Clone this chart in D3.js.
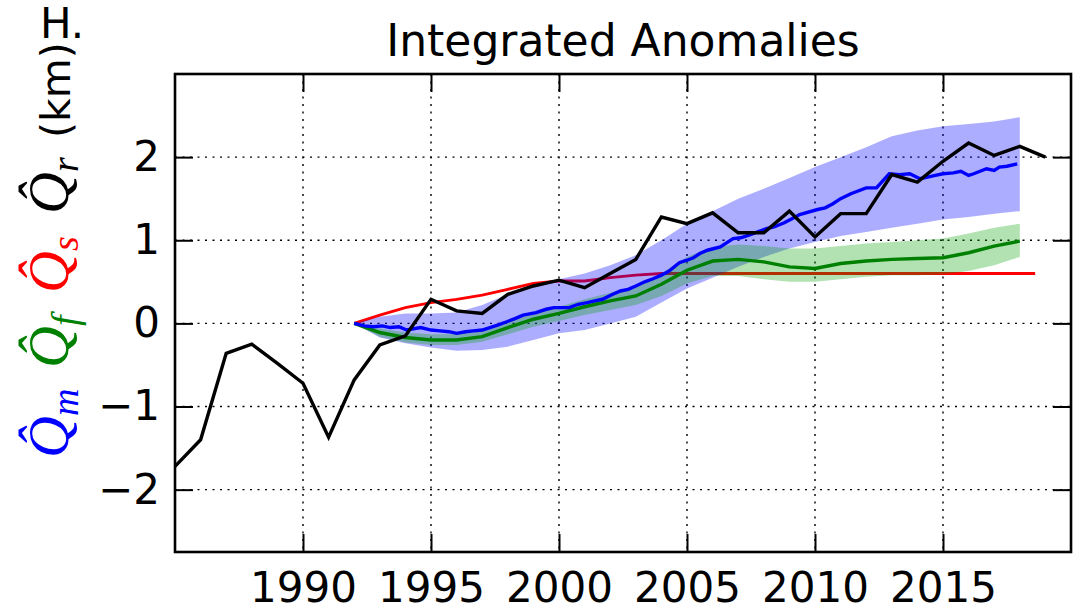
<!DOCTYPE html>
<html>
<head>
<meta charset="utf-8">
<script src="https://cdn.jsdelivr.net/npm/d3@7"></script>
<style>
  html, body { margin: 0; padding: 0; background: #fff; }
  svg { display: block; }
</style>
</head>
<body>
<svg id="chart" width="1074" height="612"></svg>
<script>
// ---------- data ----------
const xTicks = [1990, 1995, 2000, 2005, 2010, 2015];
const yTicks = [-2, -1, 0, 1, 2];

// Q_r (black), annual
const qrYears = [1985,1986,1987,1988,1989,1990,1991,1992,1993,1994,1995,1996,1997,1998,1999,2000,2001,2002,2003,2004,2005,2006,2007,2008,2009,2010,2011,2012,2013,2014,2015,2016,2017,2018,2019];
const qrValues = [-1.72,-1.40,-0.36,-0.25,-0.48,-0.72,-1.37,-0.68,-0.26,-0.15,0.29,0.15,0.12,0.35,0.45,0.52,0.43,0.60,0.77,1.28,1.20,1.33,1.09,1.09,1.35,1.04,1.32,1.32,1.79,1.70,1.95,2.17,2.02,2.13,2.00];

// Q_s (red)
const qsYears = [1992,1993,1994,1995,1996,1997,1998,1999,2000,2001,2002,2003,2004,2005,2006,2008,2010,2012,2014,2016,2018,2018.6];
const qsValues = [0.0,0.10,0.19,0.25,0.29,0.34,0.41,0.48,0.51,0.51,0.55,0.58,0.60,0.60,0.60,0.60,0.60,0.60,0.60,0.60,0.60,0.60];

// Q_m (blue), sub-annual
const qmYears = [1992.0,1992.4,1992.75,1993.1,1993.4,1993.75,1994.05,1994.6,1995.0,1995.35,1995.7,1996.0,1996.35,1996.65,1997.0,1997.3,1997.6,1997.96,1998.3,1998.6,1999.1,1999.5,1999.8,2000.4,2000.75,2001.1,2001.4,2001.7,2002.1,2002.4,2002.7,2003.0,2003.35,2003.7,2004.0,2004.3,2004.7,2005.0,2005.25,2005.5,2005.8,2006.3,2006.8,2007.1,2007.5,2008.1,2008.4,2008.8,2009.1,2009.4,2010.1,2010.4,2010.7,2011.0,2011.4,2012.0,2012.4,2012.9,2013.3,2013.7,2014.1,2014.4,2014.7,2015.0,2015.4,2015.7,2016.0,2016.2,2016.7,2017.0,2017.2,2017.5,2017.9];
const qmValues = [0.0,-0.03,-0.04,-0.03,-0.05,-0.04,-0.08,-0.05,-0.08,-0.09,-0.10,-0.12,-0.10,-0.09,-0.08,-0.05,-0.02,0.02,0.06,0.10,0.13,0.17,0.19,0.19,0.23,0.25,0.27,0.29,0.35,0.39,0.41,0.45,0.50,0.54,0.58,0.63,0.73,0.76,0.79,0.84,0.88,0.92,1.02,1.03,1.07,1.14,1.16,1.21,1.26,1.31,1.37,1.39,1.44,1.50,1.56,1.63,1.63,1.80,1.79,1.80,1.74,1.76,1.78,1.80,1.81,1.83,1.78,1.80,1.86,1.84,1.88,1.89,1.92];

// Q_m uncertainty band (blue), annual
const bandYears = [1992,1993,1994,1995,1996,1997,1998,1999,2000,2001,2002,2003,2004,2005,2006,2007,2008,2009,2010,2011,2012,2013,2014,2015,2016,2017,2018];
const qmUpper = [0.0,0.08,0.12,0.12,0.13,0.22,0.35,0.46,0.53,0.60,0.70,0.82,1.00,1.20,1.35,1.50,1.62,1.75,1.88,2.00,2.12,2.25,2.32,2.37,2.40,2.43,2.48];
const qmLower = [0.0,-0.17,-0.24,-0.29,-0.33,-0.32,-0.28,-0.20,-0.12,-0.08,0.00,0.08,0.25,0.42,0.55,0.68,0.80,0.90,0.98,1.05,1.10,1.15,1.20,1.25,1.28,1.32,1.35];

// Q_f (green), annual, with band
const qfValues = [0.0,-0.11,-0.17,-0.20,-0.20,-0.16,-0.05,0.05,0.12,0.20,0.27,0.33,0.47,0.64,0.75,0.77,0.74,0.68,0.66,0.72,0.75,0.77,0.78,0.79,0.85,0.93,0.99];
const qfUpper = [0.0,-0.06,-0.11,-0.13,-0.13,-0.09,0.02,0.12,0.20,0.29,0.37,0.45,0.60,0.80,0.92,0.95,0.93,0.90,0.90,0.93,0.96,0.98,1.00,1.02,1.08,1.15,1.20];
const qfLower = [0.0,-0.16,-0.23,-0.26,-0.26,-0.22,-0.13,-0.04,0.03,0.10,0.16,0.22,0.33,0.48,0.57,0.57,0.53,0.50,0.50,0.53,0.56,0.58,0.58,0.59,0.63,0.70,0.80];

// y-label pieces
const labelParts = [
  { q: "Q\u0302", sub: "m", color: "#0000ff" },
  { q: "Q\u0302", sub: "f", color: "#008000" },
  { q: "Q\u0302", sub: "s", color: "#ff0000" },
  { q: "Q\u0302", sub: "r", color: "#000000" }
];

// ---------- layout ----------
const svg = d3.select("#chart");
const L = 175, R = 1071, T = 74, B = 552;
const x = d3.scaleLinear().domain([1985, 2020]).range([L, R]);
const y = d3.scaleLinear().domain([-2.75, 3]).range([B, T]);

svg.append("defs").append("clipPath").attr("id", "plotclip")
  .append("rect").attr("x", L).attr("y", T).attr("width", R - L).attr("height", B - T);

// grid
const grid = svg.append("g").attr("stroke", "#000").attr("stroke-width", 1.4)
  .attr("stroke-dasharray", "2,5.5");
grid.selectAll("line.gx").data(xTicks).join("line")
  .attr("x1", d => x(d)).attr("x2", d => x(d)).attr("y1", T).attr("y2", B);
grid.selectAll("line.gy").data(yTicks).join("line")
  .attr("y1", d => y(d)).attr("y2", d => y(d)).attr("x1", L).attr("x2", R);

const plot = svg.append("g").attr("clip-path", "url(#plotclip)");

const lineGen = (xs, vs) => d3.line().x((d, i) => x(xs[i])).y((d, i) => y(vs[i]))(vs);
const areaGen = (xs, lo, hi) => d3.area()
  .x((d, i) => x(xs[i])).y0((d, i) => y(lo[i])).y1((d, i) => y(hi[i]))(lo);

// red line (under bands)
plot.append("path").attr("d", lineGen(qsYears, qsValues))
  .attr("fill", "none").attr("stroke", "#ff0000").attr("stroke-width", 2.8);

// bands
plot.append("path").attr("d", areaGen(bandYears, qmLower, qmUpper))
  .attr("fill", "#0000ff").attr("fill-opacity", 0.32).attr("stroke", "none");
plot.append("path").attr("d", areaGen(bandYears, qfLower, qfUpper))
  .attr("fill", "#00a000").attr("fill-opacity", 0.3).attr("stroke", "none");

// green, blue, black lines
plot.append("path").attr("d", lineGen(bandYears, qfValues))
  .attr("fill", "none").attr("stroke", "#008000").attr("stroke-width", 3.4);
plot.append("path").attr("d", lineGen(qmYears, qmValues))
  .attr("fill", "none").attr("stroke", "#0000ff").attr("stroke-width", 3.4);
plot.append("path").attr("d", lineGen(qrYears, qrValues))
  .attr("fill", "none").attr("stroke", "#000000").attr("stroke-width", 3.4);

// axes
const fmt = d3.format("d");
const axB = svg.append("g").attr("transform", `translate(0,${B})`)
  .call(d3.axisBottom(x).tickValues(xTicks).tickSize(-18).tickPadding(20).tickFormat(fmt));
const axL = svg.append("g").attr("transform", `translate(${L},0)`)
  .call(d3.axisLeft(y).tickValues(yTicks).tickSize(-18).tickPadding(15).tickFormat(fmt));
const axT = svg.append("g").attr("transform", `translate(0,${T})`)
  .call(d3.axisTop(x).tickValues(xTicks).tickSize(-18).tickFormat(""));
const axR = svg.append("g").attr("transform", `translate(${R},0)`)
  .call(d3.axisRight(y).tickValues(yTicks).tickSize(-18).tickFormat(""));
[axB, axL, axT, axR].forEach(g => {
  g.select(".domain").remove();
  g.selectAll(".tick line").attr("stroke", "#000").attr("stroke-width", 2);
  g.selectAll(".tick text").style("font-family", "'DejaVu Sans', sans-serif")
    .style("font-size", "42px").style("fill", "#000");
});

// frame
svg.append("rect").attr("x", L).attr("y", T).attr("width", R - L).attr("height", B - T)
  .attr("fill", "none").attr("stroke", "#000").attr("stroke-width", 2.6);

// title
svg.append("text").attr("x", (L + R) / 2).attr("y", 56).attr("text-anchor", "middle")
  .style("font-family", "'DejaVu Sans', sans-serif").style("font-size", "44px").style("fill", "#000")
  .text("Integrated Anomalies");

// panel label
svg.append("text").attr("x", 40).attr("y", 38)
  .style("font-family", "'DejaVu Sans', sans-serif").style("font-size", "42px").style("fill", "#000")
  .text("H.");

// y label (rotated, multicoloured)
const ylg = svg.append("g").attr("transform", "translate(68,458) rotate(-90)");
const offsets = [0, 90, 165, 244];
labelParts.forEach((p, i) => {
  const t = ylg.append("text").attr("x", offsets[i]).attr("y", 0)
    .style("font-family", "'Liberation Serif', serif").style("font-style", "italic")
    .style("fill", p.color);
  t.append("tspan").style("font-size", "58px").text(p.q);
  t.append("tspan").style("font-size", "38px").attr("dy", 10).text(p.sub);
});
ylg.append("text").attr("x", 320).attr("y", 2)
  .style("font-family", "'DejaVu Sans', sans-serif").style("font-size", "41px").style("fill", "#000")
  .text("(km)");
</script>
</body>
</html>
